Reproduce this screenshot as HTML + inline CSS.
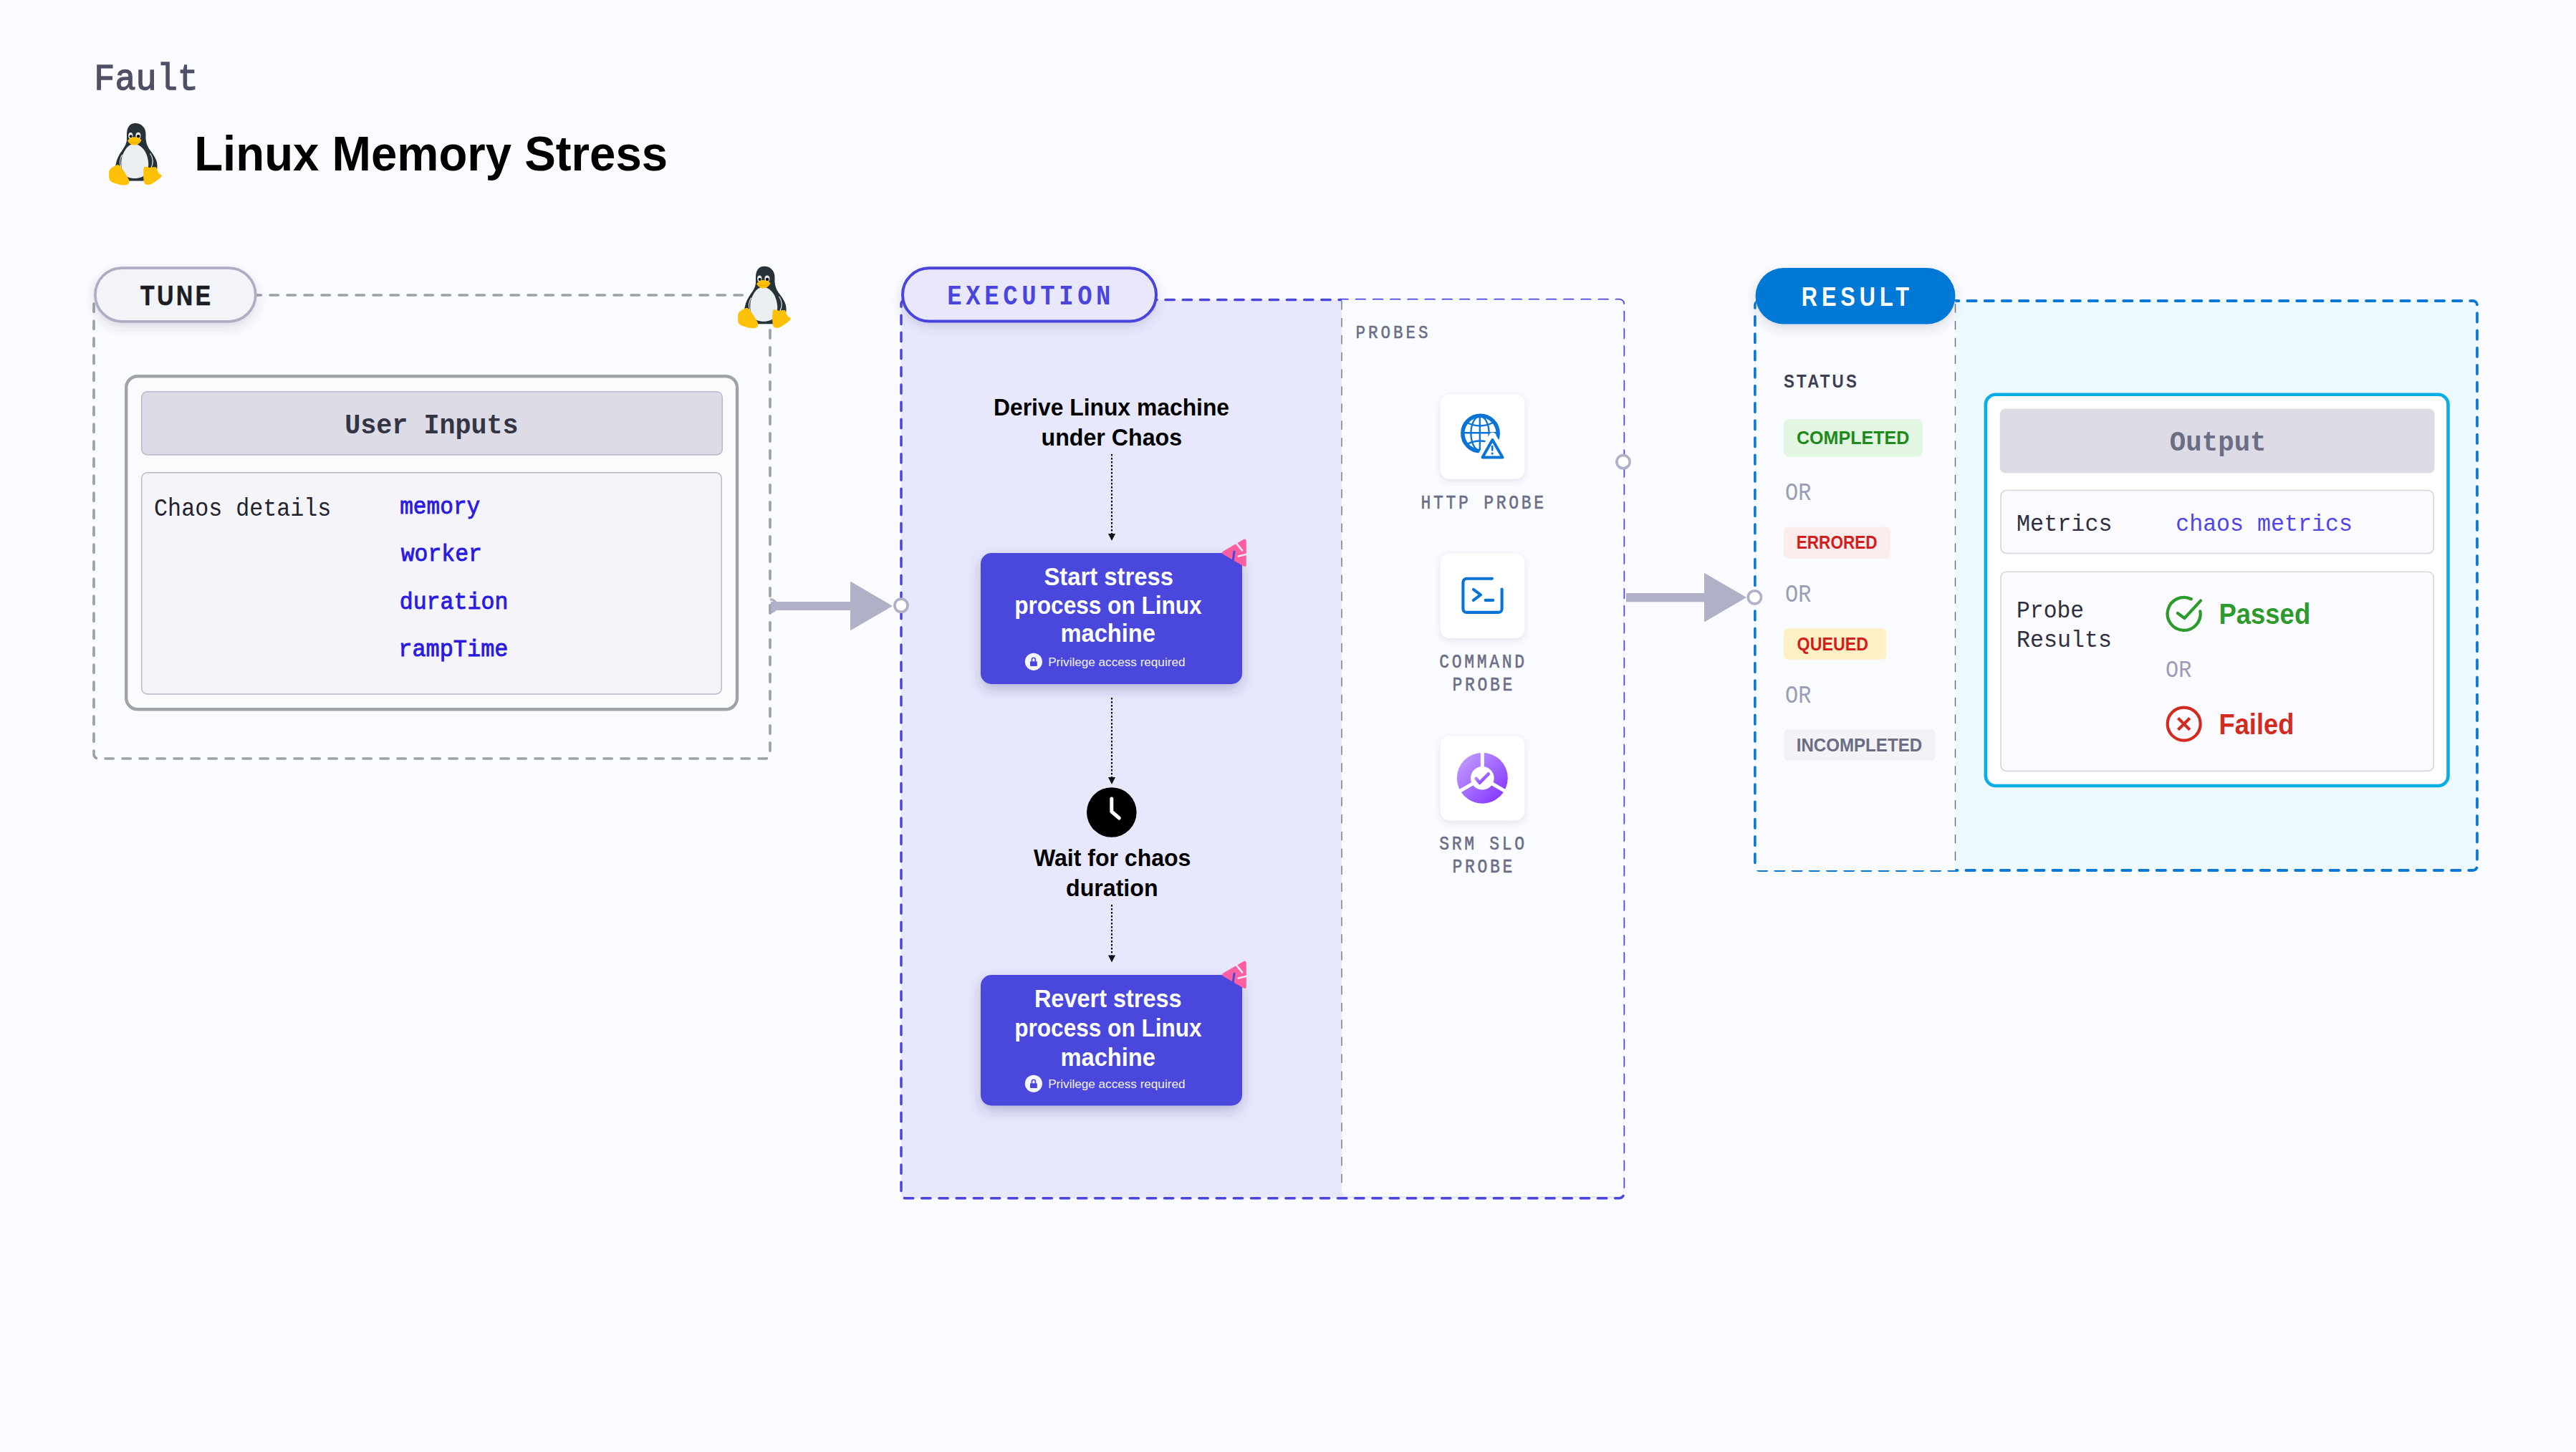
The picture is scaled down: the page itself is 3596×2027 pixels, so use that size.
<!DOCTYPE html>
<html><head><meta charset="utf-8"><title>Linux Memory Stress</title>
<style>html,body{margin:0;padding:0;} body{width:3596px;height:2027px;background:#FAFBFE;position:relative;overflow:hidden;font-family:"Liberation Sans",sans-serif;}</style>
</head><body>
<svg width="3596" height="2027" viewBox="0 0 3596 2027" style="position:absolute;left:0;top:0">
<defs>
<filter id="pillShadow" x="-20%" y="-30%" width="140%" height="180%"><feDropShadow dx="0" dy="6" stdDeviation="7" flood-color="#3C3C64" flood-opacity="0.16"/></filter>
<filter id="cardShadow" x="-30%" y="-40%" width="160%" height="190%"><feDropShadow dx="0" dy="7" stdDeviation="9" flood-color="#2A2A78" flood-opacity="0.28"/></filter>
<filter id="probeShadow" x="-30%" y="-30%" width="160%" height="170%"><feDropShadow dx="0" dy="3" stdDeviation="4" flood-color="#50507A" flood-opacity="0.14"/></filter>
<linearGradient id="srmGrad" x1="0" y1="0" x2="1" y2="1"><stop offset="0" stop-color="#C6A6FF"/><stop offset="1" stop-color="#7F2BFF"/></linearGradient>
</defs>
<rect x="1258" y="418.5" width="1008.5" height="1254.2" rx="6" fill="#E8E8FC"/>
<rect x="2449.5" y="420" width="1008.5" height="795" rx="6" fill="#EEF9FE"/>
<defs><clipPath id="halfClip"><rect x="1075" y="820" width="30" height="50"/></clipPath></defs><circle cx="1075" cy="845.6" r="8.9" fill="#FFFFFF" stroke="#B0B0C6" stroke-width="3.5" clip-path="url(#halfClip)"/>
<rect x="131" y="412" width="944" height="647" rx="6" fill="none" stroke="#9CA0A7" stroke-width="3.6" stroke-dasharray="11.4 12.6" stroke-linecap="round"/>
<rect x="1258" y="418.5" width="1008.5" height="1254.2" rx="6" fill="none" stroke="#4A45DC" stroke-width="3.5" stroke-dasharray="12.3 11.9" stroke-linecap="round"/>
<rect x="2450" y="420" width="1008" height="795" rx="6" fill="none" stroke="#0A78D5" stroke-width="3.8" stroke-dasharray="12.3 11.9" stroke-linecap="round"/>
<path d="M1873,418.5 L2260.5,418.5 A6,6 0 0 1 2266.5,424.5 L2266.5,1664 A6,6 0 0 1 2260.5,1670 L1881,1670 A8,8 0 0 1 1873,1662 Z" fill="#FAFBFE"/>
<line x1="1873" y1="420" x2="1873" y2="1662" stroke="#9496A6" stroke-width="1.9" stroke-dasharray="12.4 11.5"/>
<rect x="2451.8" y="420" width="277.7" height="795" fill="#FAFBFE"/>
<line x1="2729.5" y1="424" x2="2729.5" y2="1213" stroke="#6A6C7E" stroke-width="1.4" stroke-dasharray="12.4 11.5"/>
<rect x="176.2" y="525.2" width="852.8" height="465.1" rx="16" fill="#FBFBFE" stroke="#9EA3A8" stroke-width="4.4"/>
<rect x="197.7" y="546.7" width="810.6" height="88.2" rx="8" fill="#DCDBE6" stroke="#B8B7CC" stroke-width="1.5"/>
<rect x="197.7" y="659.7" width="809.6" height="309.2" rx="8" fill="#F4F4F9" stroke="#B8B7CC" stroke-width="1.5"/>
<rect x="1076" y="840" width="112" height="12" fill="#B0B0C6"/>
<path d="M1187,811.6 L1246,845.9 L1187,880.2 Z" fill="#B0B0C6"/>
<circle cx="1258" cy="845.2" r="9.1" fill="#FFFFFF" stroke="#B0B0C6" stroke-width="3.6"/>
<rect x="2270" y="828" width="110" height="12.3" fill="#B0B0C6"/>
<path d="M2379,799.8 L2438,834 L2379,868.4 Z" fill="#B0B0C6"/>
<circle cx="2266" cy="644.7" r="9.1" fill="#FFFFFF" stroke="#B0B0C6" stroke-width="3.6"/>
<circle cx="2449.4" cy="833.8" r="9.1" fill="#FFFFFF" stroke="#B0B0C6" stroke-width="3.6"/>
<rect x="132.9" y="374.1" width="223.8" height="74.7" rx="37.35" fill="#F3F4F8" stroke="#ADADC3" stroke-width="3.7" filter="url(#pillShadow)"/>
<rect x="1260" y="374.3" width="354" height="74.2" rx="37.1" fill="#E8E8FA" stroke="#4A45DC" stroke-width="4" filter="url(#pillShadow)"/>
<rect x="2450.6" y="374" width="278.9" height="78.6" rx="39.3" fill="#0278D5" filter="url(#pillShadow)"/>
<g transform="translate(152,172)"><path d="M37,0 C45,0 51.5,6 51.5,15 L51.5,22 C52,28 54,33 57,37 C62,44 67,50 67.5,58 C68,66 65,76 56,80.5 L18,80.5 C9,76 8,66 9.5,58 C11,50 14,44 18.5,38 C22,33 25,28 25,22 L25,15 C25,6 29,0 37,0 Z" fill="#263238"/>
<path d="M35,29 C43,29 50,36 53,45 C56,54 56,62 52.5,69 C49,75 43,77 36,77 C29,77 23,75 20,69 C16.5,62 16.5,52 19,45 C22,37 27,29 35,29 Z" fill="#ECEFF1"/>
<path d="M57.5,42 C61.5,48 62.5,56 58.5,63" fill="none" stroke="#ECEFF1" stroke-width="1.1"/>
<path d="M18.5,44 C15,50 14.5,56 17,62" fill="none" stroke="#ECEFF1" stroke-width="1.1"/>
<ellipse cx="30.3" cy="17.4" rx="3.1" ry="4.5" fill="#ECEFF1"/><ellipse cx="40.9" cy="17.4" rx="3.5" ry="4.6" fill="#ECEFF1"/>
<circle cx="30.6" cy="18.3" r="2" fill="#111"/><circle cx="41.1" cy="18.3" r="2.3" fill="#111"/>
<path d="M26,24.5 C29,20.5 33,19 36,19.3 C40,19.5 43.5,21 45.5,23.5 C44,27.5 40,30.5 36,30.8 C31.5,30.8 28,28 26,24.5 Z" fill="#FFC107"/>
<path d="M29,26 C33,28 39,27.5 43,25" fill="none" stroke="#D9A100" stroke-width="0.8"/>
<path d="M0.5,66 C3,62 9,58.5 13,58 C17,60 22,68 27.5,78 C29,81 28.5,84.5 25,86 C20,87.5 14,85.5 9,84 C5,83 1,81 0.5,78 C-0.2,74 0,70 0.5,66 Z" fill="#FFC107"/>
<path d="M49,61 C52,60 55,61.5 57,62 C60,61.5 64,61 66,61.5 C67.5,65 68.5,68.5 70,70 C72,71.5 74,72 73.8,73.5 C72,77 66,81 61,84 C57,86.5 52,87 49.5,84 C48,79 47.5,70 49,61 Z" fill="#FFC107"/></g>
<g transform="translate(1030,371.7)"><path d="M37,0 C45,0 51.5,6 51.5,15 L51.5,22 C52,28 54,33 57,37 C62,44 67,50 67.5,58 C68,66 65,76 56,80.5 L18,80.5 C9,76 8,66 9.5,58 C11,50 14,44 18.5,38 C22,33 25,28 25,22 L25,15 C25,6 29,0 37,0 Z" fill="#263238"/>
<path d="M35,29 C43,29 50,36 53,45 C56,54 56,62 52.5,69 C49,75 43,77 36,77 C29,77 23,75 20,69 C16.5,62 16.5,52 19,45 C22,37 27,29 35,29 Z" fill="#ECEFF1"/>
<path d="M57.5,42 C61.5,48 62.5,56 58.5,63" fill="none" stroke="#ECEFF1" stroke-width="1.1"/>
<path d="M18.5,44 C15,50 14.5,56 17,62" fill="none" stroke="#ECEFF1" stroke-width="1.1"/>
<ellipse cx="30.3" cy="17.4" rx="3.1" ry="4.5" fill="#ECEFF1"/><ellipse cx="40.9" cy="17.4" rx="3.5" ry="4.6" fill="#ECEFF1"/>
<circle cx="30.6" cy="18.3" r="2" fill="#111"/><circle cx="41.1" cy="18.3" r="2.3" fill="#111"/>
<path d="M26,24.5 C29,20.5 33,19 36,19.3 C40,19.5 43.5,21 45.5,23.5 C44,27.5 40,30.5 36,30.8 C31.5,30.8 28,28 26,24.5 Z" fill="#FFC107"/>
<path d="M29,26 C33,28 39,27.5 43,25" fill="none" stroke="#D9A100" stroke-width="0.8"/>
<path d="M0.5,66 C3,62 9,58.5 13,58 C17,60 22,68 27.5,78 C29,81 28.5,84.5 25,86 C20,87.5 14,85.5 9,84 C5,83 1,81 0.5,78 C-0.2,74 0,70 0.5,66 Z" fill="#FFC107"/>
<path d="M49,61 C52,60 55,61.5 57,62 C60,61.5 64,61 66,61.5 C67.5,65 68.5,68.5 70,70 C72,71.5 74,72 73.8,73.5 C72,77 66,81 61,84 C57,86.5 52,87 49.5,84 C48,79 47.5,70 49,61 Z" fill="#FFC107"/></g>
<line x1="1552" y1="634" x2="1552" y2="745" stroke="#000" stroke-width="2.1" stroke-dasharray="2.6 2.4"/><path d="M1546.95,745 L1557.05,745 L1552,755 Z" fill="#111"/>
<line x1="1552" y1="974" x2="1552" y2="1085" stroke="#000" stroke-width="2.1" stroke-dasharray="2.6 2.4"/><path d="M1546.95,1085 L1557.05,1085 L1552,1095 Z" fill="#111"/>
<line x1="1552" y1="1263" x2="1552" y2="1333.5" stroke="#000" stroke-width="2.1" stroke-dasharray="2.6 2.4"/><path d="M1546.95,1333.5 L1557.05,1333.5 L1552,1343.5 Z" fill="#111"/>
<rect x="1369" y="772" width="365" height="183" rx="15" fill="#4A46DC" filter="url(#cardShadow)"/>
<rect x="1369" y="1361" width="365" height="182.5" rx="15" fill="#4A46DC" filter="url(#cardShadow)"/>
<g transform="translate(1706.3,752.4)">
<path d="M2.5,19.2 L31,2.8 L31,36 Z" fill="#FF5FA0" stroke="#FF5FA0" stroke-width="5" stroke-linejoin="round"/>
<line x1="20" y1="6.5" x2="27.8" y2="16" stroke="#E8E8FB" stroke-width="2.6" stroke-linecap="round"/>
<line x1="16.8" y1="16.5" x2="15" y2="30" stroke="#4A46DC" stroke-width="3" />
<line x1="22.5" y1="24.2" x2="35" y2="21" stroke="#E8E8FB" stroke-width="2.6" stroke-linecap="round"/>
</g>
<g transform="translate(1706.3,1341.4)">
<path d="M2.5,19.2 L31,2.8 L31,36 Z" fill="#FF5FA0" stroke="#FF5FA0" stroke-width="5" stroke-linejoin="round"/>
<line x1="20" y1="6.5" x2="27.8" y2="16" stroke="#E8E8FB" stroke-width="2.6" stroke-linecap="round"/>
<line x1="16.8" y1="16.5" x2="15" y2="30" stroke="#4A46DC" stroke-width="3" />
<line x1="22.5" y1="24.2" x2="35" y2="21" stroke="#E8E8FB" stroke-width="2.6" stroke-linecap="round"/>
</g>
<circle cx="1442.9" cy="923.8" r="12.1" fill="#F5F5FC"/>
<rect x="1438.0" y="923.1999999999999" width="9.8" height="6.8" rx="0.8" fill="#4A46DC"/>
<path d="M1440.45,923.8 L1440.45,920.6999999999999 A2.45,2.45 0 0 1 1445.3500000000001,920.6999999999999 L1445.3500000000001,923.8" fill="none" stroke="#4A46DC" stroke-width="1.7"/>
<circle cx="1442.9" cy="1512.8" r="12.1" fill="#F5F5FC"/>
<rect x="1438.0" y="1512.2" width="9.8" height="6.8" rx="0.8" fill="#4A46DC"/>
<path d="M1440.45,1512.8 L1440.45,1509.7 A2.45,2.45 0 0 1 1445.3500000000001,1509.7 L1445.3500000000001,1512.8" fill="none" stroke="#4A46DC" stroke-width="1.7"/>
<circle cx="1551.8" cy="1134" r="34.8" fill="#000"/>
<path d="M1551.8,1115 L1551.8,1133 L1562.3,1142" fill="none" stroke="#FFF" stroke-width="5" stroke-linecap="round" stroke-linejoin="round"/>
<rect x="2010.8" y="550.8" width="117.4" height="118" rx="13" fill="#FFFFFF" filter="url(#probeShadow)"/>
<rect x="2010.8" y="773.0" width="117.4" height="118" rx="13" fill="#FFFFFF" filter="url(#probeShadow)"/>
<rect x="2010.8" y="1027.5" width="117.4" height="118" rx="13" fill="#FFFFFF" filter="url(#probeShadow)"/>
<g>
<defs><mask id="globeMask"><rect x="2030" y="570" width="80" height="80" fill="#fff"/><path d="M2083.4,608 L2103,642 L2064,642 Z" fill="#000" stroke="#000" stroke-width="9" stroke-linejoin="round"/></mask></defs>
<g mask="url(#globeMask)" fill="none" stroke="#0A74D6">
<circle cx="2066.5" cy="605" r="24.7" stroke-width="5.5"/>
<line x1="2065.8" y1="580" x2="2065.8" y2="630" stroke-width="2.3"/>
<line x1="2042" y1="604.2" x2="2091" y2="604.2" stroke-width="2.4"/>
<ellipse cx="2066" cy="605" rx="12.6" ry="24" stroke-width="2.3"/>
<path d="M2048,590 Q2066,599 2084,590" stroke-width="2.3"/>
<path d="M2048,620 Q2066,611 2084,620" stroke-width="2.3"/>
</g>
<path d="M2083.4,614 L2097.5,638.5 L2069.5,638.5 Z" fill="none" stroke="#0A74D6" stroke-width="4" stroke-linejoin="round"/>
<line x1="2083.2" y1="622" x2="2083.2" y2="629.6" stroke="#0A74D6" stroke-width="2.6"/>
<circle cx="2083.2" cy="633.1" r="1.7" fill="#0A74D6"/>
</g>
<g transform="translate(2030,795)" fill="none" stroke="#0A74D6" stroke-width="4.1" stroke-linecap="round" stroke-linejoin="round">
<path d="M52.9,12.8 L17.4,12.8 A5,5 0 0 0 12.4,17.8 L12.4,54.9 A5,5 0 0 0 17.4,59.9 L61.6,59.9 A5,5 0 0 0 66.6,54.9 L66.6,27.6"/>
<path d="M26.9,27.9 L36.9,35.4 L26.9,42.9"/>
<path d="M43.6,42.9 L54.2,42.9"/>
</g>
<g transform="translate(2069.3,1086.2)">
<defs><mask id="srmMask"><rect x="-40" y="-40" width="80" height="80" fill="#fff"/>
<circle cx="0" cy="0" r="16.3" fill="#000"/>
<line x1="0" y1="0" x2="0" y2="-40" stroke="#000" stroke-width="5"/>
<line x1="0" y1="0" x2="-34.6" y2="20" stroke="#000" stroke-width="5"/>
<line x1="0" y1="0" x2="34.6" y2="20" stroke="#000" stroke-width="5"/>
</mask></defs>
<circle cx="0" cy="0" r="35.5" fill="url(#srmGrad)" mask="url(#srmMask)"/>
<path d="M-8.7,0.6 L-3.7,6.5 L8.4,-5.9" fill="none" stroke="url(#srmGrad)" stroke-width="4.6" stroke-linecap="round" stroke-linejoin="round"/>
</g>
<rect x="2490" y="585" width="194" height="52.8" rx="8" fill="#E3F6E1"/>
<rect x="2490" y="735.4" width="148.8" height="44.3" rx="6" fill="#FDECEC"/>
<rect x="2490" y="877.2" width="143" height="43.5" rx="6" fill="#FFF0C6"/>
<rect x="2490" y="1018.2" width="212" height="43.6" rx="6" fill="#F2F2F7"/>
<rect x="2771.9" y="550.7" width="645.6" height="546.3" rx="14" fill="#FFFFFF" stroke="#0BADE5" stroke-width="4.6"/>
<rect x="2791.7" y="570.5" width="606.9" height="90" rx="8" fill="#DCDBE6"/>
<rect x="2793" y="684.5" width="604.3" height="88" rx="8" fill="#FBFBFF" stroke="#D5D5E0" stroke-width="1.6"/>
<rect x="2793" y="798.2" width="604.3" height="278.2" rx="8" fill="#FBFBFF" stroke="#D5D5E0" stroke-width="1.6"/>
<path d="M3071.4,853.4 A23,23 0 1 1 3058.8,836.3" fill="none" stroke="#2C9A2C" stroke-width="4.3" stroke-linecap="round"/>
<path d="M3040,856 L3049.5,863 L3072,838.6" fill="none" stroke="#2C9A2C" stroke-width="4.2" stroke-linecap="round" stroke-linejoin="round"/>
<circle cx="3048.7" cy="1010.6" r="23" fill="none" stroke="#D22B1F" stroke-width="4.2"/>
<path d="M3040.5,1002.4 L3056.9,1018.8 M3056.9,1002.4 L3040.5,1018.8" fill="none" stroke="#D22B1F" stroke-width="4.2"/>
<text id="t_fault" x="131.30" y="125.10" font-family="'Liberation Mono', monospace" font-weight="400" font-size="51.92" fill="#4F5066" stroke="#4F5066" stroke-width="1.3" textLength="145.59" lengthAdjust="spacingAndGlyphs">Fault</text>
<text id="t_title" x="271.20" y="238.30" font-family="'Liberation Sans', sans-serif" font-weight="700" font-size="68.46" fill="#000000" textLength="660.88" lengthAdjust="spacingAndGlyphs">Linux Memory Stress</text>
<text id="t_tune" transform="scale(0.84,1)" x="233.33" y="425.60" font-family="'Liberation Sans', sans-serif" font-weight="700" font-size="38.08" fill="#1B1D23" stroke="#1B1D23" stroke-width="0.6" textLength="116.92" lengthAdjust="spacing">TUNE</text>
<text id="t_userinputs" x="481.20" y="604.60" font-family="'Liberation Mono', monospace" font-weight="700" font-size="39.02" fill="#333544" textLength="242.42" lengthAdjust="spacingAndGlyphs">User Inputs</text>
<text id="t_chaosdetails" x="215.10" y="720.20" font-family="'Liberation Mono', monospace" font-weight="400" font-size="34.92" fill="#22232E" textLength="247.23" lengthAdjust="spacingAndGlyphs">Chaos details</text>
<text id="t_memory" x="558.20" y="716.50" font-family="'Liberation Mono', monospace" font-weight="400" font-size="33.70" fill="#2A1AE0" stroke="#2A1AE0" stroke-width="0.9" textLength="112.10" lengthAdjust="spacingAndGlyphs">memory</text>
<text id="t_worker" x="559.70" y="782.60" font-family="'Liberation Mono', monospace" font-weight="400" font-size="33.70" fill="#2A1AE0" stroke="#2A1AE0" stroke-width="0.9" textLength="113.24" lengthAdjust="spacingAndGlyphs">worker</text>
<text id="t_duration" x="557.70" y="849.60" font-family="'Liberation Mono', monospace" font-weight="400" font-size="33.70" fill="#2A1AE0" stroke="#2A1AE0" stroke-width="0.9" textLength="151.66" lengthAdjust="spacingAndGlyphs">duration</text>
<text id="t_ramptime" x="556.30" y="916.20" font-family="'Liberation Mono', monospace" font-weight="400" font-size="33.70" fill="#2A1AE0" stroke="#2A1AE0" stroke-width="0.9" textLength="153.15" lengthAdjust="spacingAndGlyphs">rampTime</text>
<text id="t_execution" transform="scale(0.86,1)" x="1537.56" y="425.10" font-family="'Liberation Mono', monospace" font-weight="700" font-size="39.47" fill="#4A45DC" textLength="265.33" lengthAdjust="spacing">EXECUTION</text>
<text id="t_derive1" x="1387.00" y="579.80" font-family="'Liberation Sans', sans-serif" font-weight="700" font-size="32.41" fill="#000000" textLength="329.07" lengthAdjust="spacingAndGlyphs">Derive Linux machine</text>
<text id="t_derive2" x="1453.50" y="621.60" font-family="'Liberation Sans', sans-serif" font-weight="700" font-size="32.41" fill="#000000" textLength="196.54" lengthAdjust="spacingAndGlyphs">under Chaos</text>
<text id="t_c1l1" x="1457.50" y="817.10" font-family="'Liberation Sans', sans-serif" font-weight="700" font-size="34.16" fill="#FFFFFF" textLength="180.41" lengthAdjust="spacingAndGlyphs">Start stress</text>
<text id="t_c1l2" x="1416.20" y="856.70" font-family="'Liberation Sans', sans-serif" font-weight="700" font-size="34.16" fill="#FFFFFF" textLength="261.50" lengthAdjust="spacingAndGlyphs">process on Linux</text>
<text id="t_c1l3" x="1480.50" y="896.40" font-family="'Liberation Sans', sans-serif" font-weight="700" font-size="34.16" fill="#FFFFFF" textLength="132.47" lengthAdjust="spacingAndGlyphs">machine</text>
<text id="t_c1p" x="1463.20" y="930.00" font-family="'Liberation Sans', sans-serif" font-weight="400" font-size="17.01" fill="#F2F2FB" textLength="191.25" lengthAdjust="spacingAndGlyphs">Privilege access required</text>
<text id="t_wait1" x="1442.90" y="1209.30" font-family="'Liberation Sans', sans-serif" font-weight="700" font-size="33.28" fill="#000000" textLength="219.51" lengthAdjust="spacingAndGlyphs">Wait for chaos</text>
<text id="t_wait2" x="1488.00" y="1250.60" font-family="'Liberation Sans', sans-serif" font-weight="700" font-size="33.28" fill="#000000" textLength="128.56" lengthAdjust="spacingAndGlyphs">duration</text>
<text id="t_c2l1" x="1443.90" y="1406.40" font-family="'Liberation Sans', sans-serif" font-weight="700" font-size="34.16" fill="#FFFFFF" textLength="205.74" lengthAdjust="spacingAndGlyphs">Revert stress</text>
<text id="t_c2l2" x="1416.20" y="1447.20" font-family="'Liberation Sans', sans-serif" font-weight="700" font-size="34.16" fill="#FFFFFF" textLength="261.50" lengthAdjust="spacingAndGlyphs">process on Linux</text>
<text id="t_c2l3" x="1480.50" y="1487.50" font-family="'Liberation Sans', sans-serif" font-weight="700" font-size="34.16" fill="#FFFFFF" textLength="132.47" lengthAdjust="spacingAndGlyphs">machine</text>
<text id="t_c2p" x="1463.20" y="1519.00" font-family="'Liberation Sans', sans-serif" font-weight="400" font-size="17.01" fill="#F2F2FB" textLength="191.25" lengthAdjust="spacingAndGlyphs">Privilege access required</text>
<text id="t_probes" transform="scale(0.85,1)" x="2226.47" y="472.40" font-family="'Liberation Mono', monospace" font-weight="400" font-size="26.42" fill="#6B6E85" stroke="#6B6E85" stroke-width="0.6" textLength="118.74" lengthAdjust="spacing">PROBES</text>
<text id="t_hprobe" transform="scale(0.85,1)" x="2333.41" y="710.40" font-family="'Liberation Mono', monospace" font-weight="400" font-size="27.02" fill="#6B6E85" stroke="#6B6E85" stroke-width="0.6" textLength="202.04" lengthAdjust="spacing">HTTP PROBE</text>
<text id="t_cmd1" transform="scale(0.85,1)" x="2363.76" y="932.30" font-family="'Liberation Mono', monospace" font-weight="400" font-size="27.02" fill="#6B6E85" stroke="#6B6E85" stroke-width="0.6" textLength="139.78" lengthAdjust="spacing">COMMAND</text>
<text id="t_cmd2" transform="scale(0.85,1)" x="2385.18" y="963.70" font-family="'Liberation Mono', monospace" font-weight="400" font-size="27.02" fill="#6B6E85" stroke="#6B6E85" stroke-width="0.6" textLength="98.80" lengthAdjust="spacing">PROBE</text>
<text id="t_srm1" transform="scale(0.85,1)" x="2363.76" y="1186.50" font-family="'Liberation Mono', monospace" font-weight="400" font-size="27.02" fill="#6B6E85" stroke="#6B6E85" stroke-width="0.6" textLength="139.78" lengthAdjust="spacing">SRM SLO</text>
<text id="t_srm2" transform="scale(0.85,1)" x="2385.18" y="1218.50" font-family="'Liberation Mono', monospace" font-weight="400" font-size="27.02" fill="#6B6E85" stroke="#6B6E85" stroke-width="0.6" textLength="98.80" lengthAdjust="spacing">PROBE</text>
<text id="t_result" transform="scale(0.82,1)" x="3066.83" y="427.00" font-family="'Liberation Sans', sans-serif" font-weight="700" font-size="37.50" fill="#FFFFFF" textLength="183.29" lengthAdjust="spacing">RESULT</text>
<text id="t_status" transform="scale(0.85,1)" x="2929.41" y="540.60" font-family="'Liberation Sans', sans-serif" font-weight="700" font-size="26.31" fill="#3D3F52" textLength="119.79" lengthAdjust="spacing">STATUS</text>
<text id="t_completed" x="2508.00" y="620.00" font-family="'Liberation Sans', sans-serif" font-weight="700" font-size="25.87" fill="#1E8A1E" textLength="157.35" lengthAdjust="spacingAndGlyphs">COMPLETED</text>
<text id="t_or1" x="2492.00" y="698.10" font-family="'Liberation Mono', monospace" font-weight="400" font-size="34.46" fill="#9C9CB6" textLength="36.39" lengthAdjust="spacingAndGlyphs">OR</text>
<text id="t_errored" x="2507.70" y="766.10" font-family="'Liberation Sans', sans-serif" font-weight="700" font-size="26.02" fill="#D0201C" textLength="112.95" lengthAdjust="spacingAndGlyphs">ERRORED</text>
<text id="t_or2" x="2492.00" y="840.30" font-family="'Liberation Mono', monospace" font-weight="400" font-size="34.46" fill="#9C9CB6" textLength="36.39" lengthAdjust="spacingAndGlyphs">OR</text>
<text id="t_queued" x="2508.60" y="908.20" font-family="'Liberation Sans', sans-serif" font-weight="700" font-size="26.02" fill="#D0201C" textLength="99.33" lengthAdjust="spacingAndGlyphs">QUEUED</text>
<text id="t_or3" x="2492.00" y="981.20" font-family="'Liberation Mono', monospace" font-weight="400" font-size="34.46" fill="#9C9CB6" textLength="36.39" lengthAdjust="spacingAndGlyphs">OR</text>
<text id="t_incompleted" x="2507.70" y="1049.40" font-family="'Liberation Sans', sans-serif" font-weight="700" font-size="26.02" fill="#6B6D85" textLength="175.43" lengthAdjust="spacingAndGlyphs">INCOMPLETED</text>
<text id="t_output" x="3028.80" y="629.20" font-family="'Liberation Mono', monospace" font-weight="700" font-size="37.95" fill="#6B6D85" textLength="134.80" lengthAdjust="spacingAndGlyphs">Output</text>
<text id="t_metrics" x="2815.00" y="740.80" font-family="'Liberation Mono', monospace" font-weight="400" font-size="33.40" fill="#2F303F" textLength="133.64" lengthAdjust="spacingAndGlyphs">Metrics</text>
<text id="t_chaosmetrics" x="3037.20" y="740.80" font-family="'Liberation Mono', monospace" font-weight="400" font-size="33.40" fill="#5046E5" textLength="246.71" lengthAdjust="spacingAndGlyphs">chaos metrics</text>
<text id="t_probe1" x="2815.00" y="861.70" font-family="'Liberation Mono', monospace" font-weight="400" font-size="33.85" fill="#2F303F" textLength="94.17" lengthAdjust="spacingAndGlyphs">Probe</text>
<text id="t_probe2" x="2815.00" y="902.90" font-family="'Liberation Mono', monospace" font-weight="400" font-size="33.85" fill="#2F303F" textLength="133.13" lengthAdjust="spacingAndGlyphs">Results</text>
<text id="t_passed" x="3097.50" y="870.90" font-family="'Liberation Sans', sans-serif" font-weight="700" font-size="39.97" fill="#2C9A2C" textLength="127.65" lengthAdjust="spacingAndGlyphs">Passed</text>
<text id="t_or4" x="3023.10" y="945.40" font-family="'Liberation Mono', monospace" font-weight="400" font-size="32.64" fill="#9C9CB8" textLength="36.38" lengthAdjust="spacingAndGlyphs">OR</text>
<text id="t_failed" x="3097.50" y="1024.60" font-family="'Liberation Sans', sans-serif" font-weight="700" font-size="39.97" fill="#D22B1F" textLength="104.87" lengthAdjust="spacingAndGlyphs">Failed</text>
</svg>
</body></html>
